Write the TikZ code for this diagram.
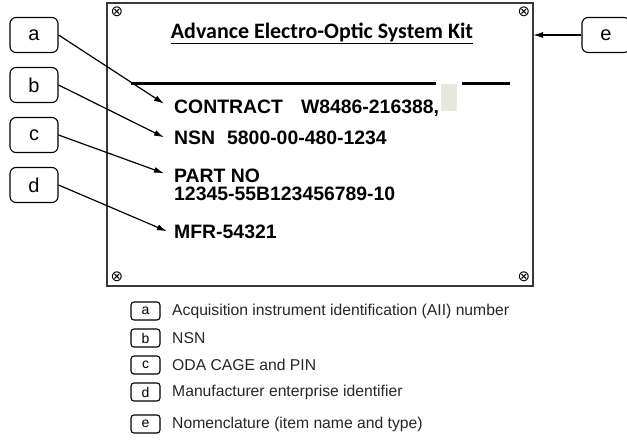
\documentclass[tikz,border=0pt]{standalone}
\usepackage{fontspec}
\setmainfont{Liberation Sans}
\newfontfamily\titlefont{Carlito}
\newfontfamily\symfont{DejaVu Sans}
\usetikzlibrary{arrows.meta}
\definecolor{plategray}{gray}{0.22}
\definecolor{patch}{HTML}{E6E9DD}
\tikzset{
  x=1pt, y=-1pt,
  callout/.style={draw=black, line width=1.1pt, rounded corners=6pt, minimum width=48pt, minimum height=35pt, inner sep=0pt, font=\fontsize{20}{22}\selectfont},
  legbox/.style={draw=black, line width=1.1pt, rounded corners=3pt, minimum width=29pt, minimum height=18pt, inner sep=0pt, font=\fontsize{14}{15}\selectfont},
  platetext/.style={anchor=base west, inner sep=0pt, font=\fontsize{19.4}{22}\selectfont\bfseries},
  legtext/.style={anchor=west, inner sep=0pt, font=\fontsize{15.7}{18}\selectfont, text=black!85},
  pointer/.style={draw=black, line width=1.2pt, -{Latex[length=10pt,width=6pt]}},
  screw/.style={inner sep=0pt, font=\symfont\fontsize{15}{15}\selectfont}
}
\begin{document}
\begin{tikzpicture}
\useasboundingbox (0,0) rectangle (627,440);
% plate
\draw[plategray, line width=1.6pt] (107,3) rectangle (533,286);
\node[screw] (s1) at (117,12) {⊗};
\node[screw] (s2) at (524,12) {⊗};
\node[screw] (s3) at (117,277) {⊗};
\node[screw] (s4) at (524,277) {⊗};
% title
\node[anchor=base, inner sep=0pt, font=\titlefont\bfseries\fontsize{22}{24}\selectfont] (title) at (322,38) {\underline{Advance Electro-Optic System Kit}};
% rule with gap and patch
\draw[line width=3pt] (131,83) -- (436,83);
\draw[line width=3pt] (462,83) -- (510,83);
\fill[patch] (441,84) rectangle (457,111);
% plate texts
\node[platetext] (contract) at (174,113) {CONTRACT\hspace{18pt}W8486-216388,};
\node[platetext] (nsn) at (174,144) {NSN\hspace{12pt}5800-00-480-1234};
\node[platetext] (part) at (174,182) {PART NO};
\node[platetext] (pnum) at (174,200) {12345-55B123456789-10};
\node[platetext] (mfr) at (174,238) {MFR-54321};
% callouts
\node[callout] (la) at (34,35) {a};
\node[callout] (lb) at (34,85) {b};
\node[callout] (lc) at (34,135) {c};
\node[callout] (ld) at (34,185) {d};
\node[callout] (le) at (606,35) {e};
\draw[pointer] (la.east) -- ([xshift=-10pt,yshift=4pt]contract.west);
\draw[pointer] (lb.east) -- ([xshift=-10pt,yshift=0pt]nsn.west);
\draw[pointer] (lc.east) -- ([xshift=-10pt,yshift=2pt]part.west);
\draw[pointer] (ld.east) -- ([xshift=-7pt,yshift=0pt]mfr.west);
\coordinate (eend) at (533,35);
\draw[pointer] (le.west) -- (eend);
% legend
\node[legbox] (ka) at (145.5,311) {a};
\node[legbox] (kb) at (145.5,338) {b};
\node[legbox] (kc) at (145.5,365) {c};
\node[legbox] (kd) at (145.5,392) {d};
\node[legbox] (ke) at (145.5,424) {e};
\node[legtext] (ta) at (172,311) {Acquisition instrument identification (AII) number};
\node[legtext] (tb) at (172,338) {NSN};
\node[legtext] (tc) at (172,365) {ODA CAGE and PIN};
\node[legtext] (td) at (172,392) {Manufacturer enterprise identifier};
\node[legtext] (te) at (172,424) {Nomenclature (item name and type)};
\end{tikzpicture}
\end{document}
